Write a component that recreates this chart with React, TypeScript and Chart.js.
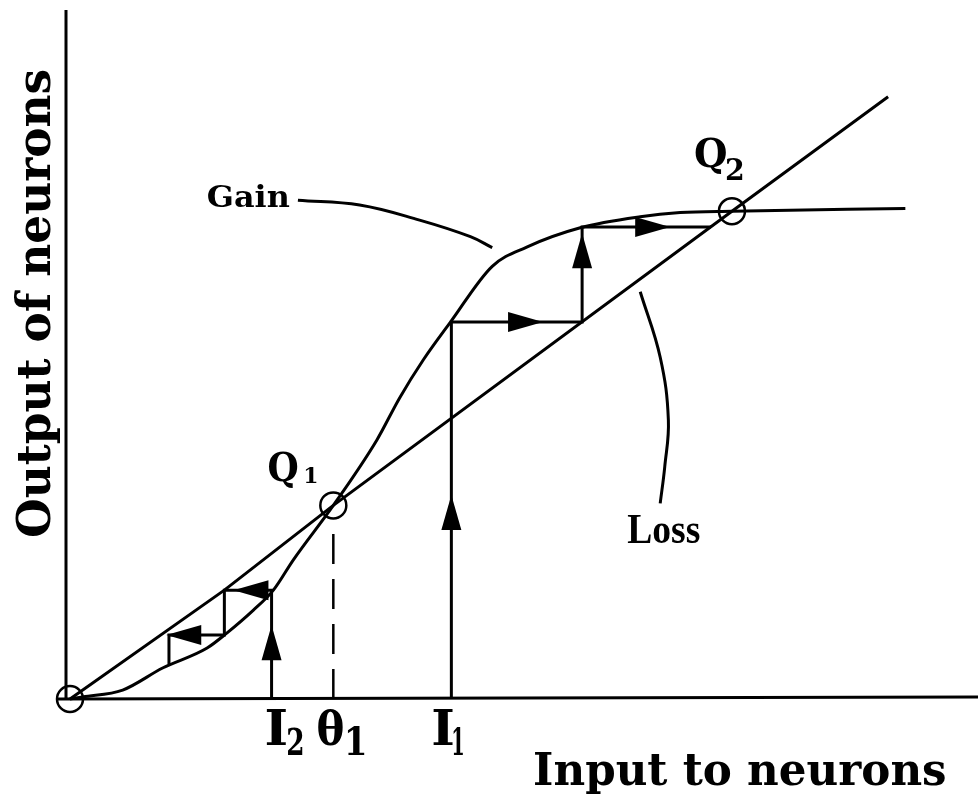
import React, { useEffect, useRef } from "react";
import { Chart, registerables } from "chart.js";
Chart.register(...registerables);

// Gain (sigmoid) curve
const gainX = [0, 1.4, 5.8, 10.2, 15.1, 17.3, 20.2, 22.4, 24.6, 29, 33.8, 36.3, 38.9, 41.9, 46.5, 50.3, 56.2, 62.8, 67.2, 72.9, 92];
const gainY = [0, 0.3, 1.3, 4.5, 7.4, 9.6, 12.9, 15.8, 20.2, 28.1, 37.6, 43.7, 49.2, 54.7, 62.8, 65.6, 68.4, 70.0, 70.6, 70.8, 71.2];
// Loss (straight) line
const lossX = [0, 17, 29, 72.9, 90.1];
const lossY = [0, 15.8, 28.1, 70.8, 87.4];
// Staircase from I1 (upward to Q2)
const upperX = [42, 42, 56.4, 56.4, 70.6];
const upperY = [0, 54.7, 54.7, 68.5, 68.5];
// Staircase from I2 (downward to origin)
const lowerX = [22.2, 22.2, 17.0, 17.0, 10.9, 10.9];
const lowerY = [0, 15.8, 15.8, 9.3, 9.3, 5.0];
// Threshold theta1 (dashed)
const thetaX = [29, 29];
const thetaY = [0, 25.5];
// Leader lines
const gainLeadX = [25.1, 31.9, 38.5, 44.1, 46.5];
const gainLeadY = [72.4, 71.7, 69.5, 67.1, 65.5];
const lossLeadX = [62.8, 65.0, 65.9, 65.5, 65.0];
const lossLeadY = [59.1, 49.6, 40.5, 33.7, 28.4];
// Fixed points (origin, Q1, Q2)
const fixedX = [0, 29, 72.9];
const fixedY = [0, 28.1, 70.8];
// Arrowheads: tip position and direction (deg; 90 = up, 0 = right, 180 = left)
const arrowX = [42, 52.1, 56.4, 66.1, 22.2, 18.0, 10.6];
const arrowY = [29.6, 54.7, 67.6, 68.5, 10.7, 15.8, 9.3];
const arrowDir = [90, 0, 90, 0, 90, 180, 180];
// Axis labels
const xTitle = "Input to neurons";
const yTitle = "Output of neurons";

const pts = (xs: number[], ys: number[]) => xs.map((x, i) => ({ x, y: ys[i] }));

const SLAB = "'DejaVu Serif', 'Liberation Serif', serif";
const SERIF = "'Liberation Serif', 'DejaVu Serif', serif";

// draw text so that its ink starts at `left`, spans `width`, and its capitals are `capH` tall
function drawFit(
  ctx: CanvasRenderingContext2D,
  text: string,
  left: number,
  baseline: number,
  width: number,
  capH: number,
  family: string,
  rot = 0
) {
  ctx.save();
  ctx.font = `bold 100px ${family}`;
  const cap = ctx.measureText("H").actualBoundingBoxAscent || 72;
  const size = (capH / cap) * 100;
  ctx.font = `bold ${size}px ${family}`;
  ctx.textAlign = "left";
  ctx.textBaseline = "alphabetic";
  const m = ctx.measureText(text);
  const L = m.actualBoundingBoxLeft || 0;
  const R = m.actualBoundingBoxRight || m.width;
  const sx = width / (L + R);
  ctx.translate(left, baseline);
  if (rot) ctx.rotate(rot);
  ctx.scale(sx, 1);
  ctx.fillStyle = "#000";
  ctx.fillText(text, L, 0);
  ctx.restore();
}

const decorPlugin = {
  id: "decor",
  beforeDatasetsDraw(chart: any) {
    const { ctx, chartArea } = chart;
    ctx.save();
    ctx.strokeStyle = "#000";
    ctx.lineWidth = 3;
    ctx.beginPath();
    ctx.moveTo(chartArea.left - 4, chartArea.top);
    ctx.lineTo(chartArea.left - 4, chartArea.bottom);
    ctx.moveTo(chartArea.left - 12, chartArea.bottom);
    ctx.lineTo(chartArea.right, chartArea.bottom - 2);
    ctx.stroke();
    ctx.restore();
  },
  afterDatasetsDraw(chart: any) {
    const { ctx, chartArea } = chart;
    const xs = chart.scales.x;
    const ys = chart.scales.y;
    const px = (v: number) => xs.getPixelForValue(v);
    const py = (v: number) => ys.getPixelForValue(v);

    // arrowheads
    ctx.save();
    ctx.fillStyle = "#000";
    for (let i = 0; i < arrowX.length; i++) {
      const tx = px(arrowX[i]);
      const ty = py(arrowY[i]);
      const a = (arrowDir[i] * Math.PI) / 180;
      const dx = Math.cos(a);
      const dy = -Math.sin(a);
      const len = 35;
      const hw = 10;
      const bx = tx - dx * len;
      const by = ty - dy * len;
      ctx.beginPath();
      ctx.moveTo(tx, ty);
      ctx.lineTo(bx - dy * hw, by + dx * hw);
      ctx.lineTo(bx + dy * hw, by - dx * hw);
      ctx.closePath();
      ctx.fill();
    }
    ctx.restore();

    // Q labels
    const q1x = px(fixedX[1]);
    const q1y = py(fixedY[1]);
    drawFit(ctx, "Q", q1x - 65, q1y - 24, 29, 28, SLAB);
    drawFit(ctx, "1", q1x - 28, q1y - 22, 12, 16, SLAB);
    const q2x = px(fixedX[2]);
    const q2y = py(fixedY[2]);
    drawFit(ctx, "Q", q2x - 37, q2y - 44, 31, 29, SLAB);
    drawFit(ctx, "2", q2x - 5, q2y - 31, 16, 22, SLAB);

    // input tick labels I2, theta1, I1
    const base = chartArea.bottom + 46;
    const i2 = px(lowerX[0]);
    drawFit(ctx, "I", i2 - 5, base, 20, 35, SLAB);
    drawFit(ctx, "2", i2 + 16, base + 10, 15, 27, SLAB);
    const th = px(thetaX[0]);
    drawFit(ctx, "θ", th - 16, base, 26, 34, SLAB);
    drawFit(ctx, "1", th + 14, base + 10, 17, 28, SLAB);
    const i1 = px(upperX[0]);
    drawFit(ctx, "I", i1 - 18, base, 20, 35, SLAB);
    drawFit(ctx, "1", i1 + 2, base + 10, 10, 27, SLAB);

    // Gain / Loss annotations
    drawFit(ctx, "Gain", px(gainLeadX[0]) - 90, py(gainLeadY[0]) + 7, 82, 22, SLAB);
    drawFit(ctx, "Loss", px(lossLeadX[4]) - 33, py(lossLeadY[4]) + 40, 73, 27, SERIF);

    // axis titles
    drawFit(ctx, xTitle, chartArea.left + 465, chartArea.bottom + 86, 410, 32, SLAB);
    drawFit(ctx, yTitle, chartArea.left - 20, chartArea.bottom - 162, 467, 34, SLAB, -Math.PI / 2);
  },
};

export default function App() {
  const ref = useRef<HTMLCanvasElement | null>(null);
  useEffect(() => {
    if (!ref.current) return;
    const line = (data: any, extra: any = {}) => ({
      data,
      showLine: true,
      borderColor: "#000",
      backgroundColor: "#000",
      borderWidth: 3,
      pointRadius: 0,
      pointHoverRadius: 0,
      fill: false,
      clip: false,
      tension: 0,
      ...extra,
    });
    const chart = new Chart(ref.current, {
      type: "scatter",
      data: {
        datasets: [
          line(pts(gainX, gainY), { cubicInterpolationMode: "monotone" }),
          line(pts(lossX, lossY)),
          line(pts(upperX, upperY)),
          line(pts(lowerX, lowerY)),
          line(pts(thetaX, thetaY), { borderDash: [30, 15], borderWidth: 2.5 }),
          line(pts(gainLeadX, gainLeadY), { tension: 0.4 }),
          line(pts(lossLeadX, lossLeadY), { tension: 0.4 }),
          {
            data: pts(fixedX, fixedY),
            showLine: false,
            pointRadius: 13,
            pointHoverRadius: 13,
            pointBorderWidth: 2.5,
            pointBorderColor: "#000",
            pointBackgroundColor: "rgba(0,0,0,0)",
            clip: false,
          } as any,
        ],
      },
      options: {
        animation: false,
        responsive: false,
        devicePixelRatio: 1,
        layout: { autoPadding: false, padding: { left: 70, right: 0, top: 10, bottom: 95 } },
        plugins: { legend: { display: false }, tooltip: { enabled: false } },
        events: [],
        scales: {
          x: { type: "linear", min: 0, max: 100, display: false },
          y: { type: "linear", min: 0, max: 100, display: false },
        },
      },
      plugins: [decorPlugin],
    });
    return () => chart.destroy();
  }, []);
  return (
    <div style={{ position: "fixed", left: 0, top: 0, width: 978, height: 794, background: "#fff" }}>
      <canvas ref={ref} width={978} height={794} style={{ width: 978, height: 794 }} />
    </div>
  );
}
